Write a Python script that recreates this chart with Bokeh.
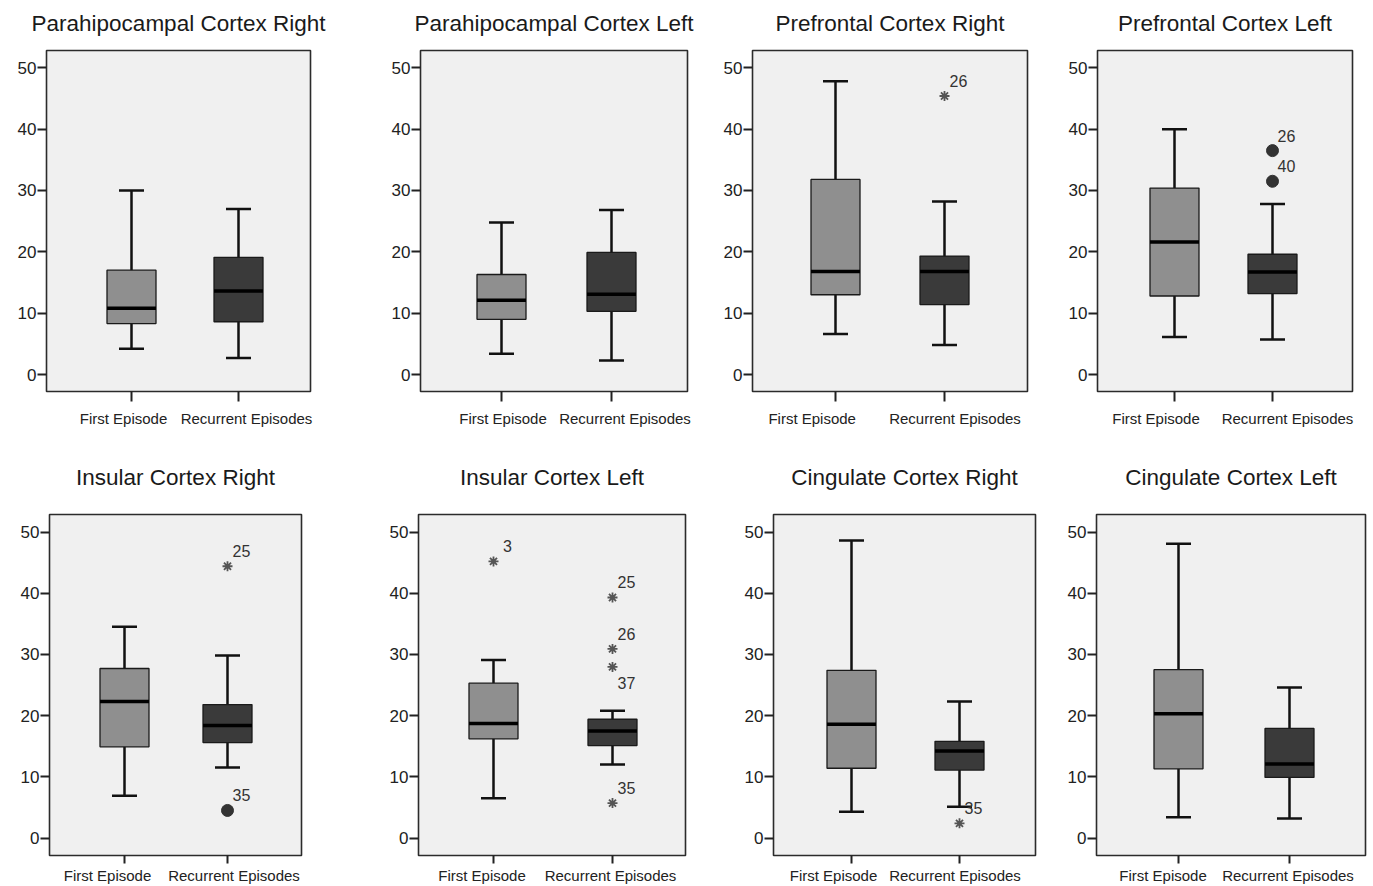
from bokeh.plotting import figure
from bokeh.layouts import column, row
from bokeh.models import FixedTicker, Range1d, ColumnDataSource, LinearAxis
from bokeh.embed import file_html
from bokeh.resources import INLINE
from bokeh.core.properties import value

# ---------------- data ----------------
panels = ["Parahipocampal Cortex Right", "Parahipocampal Cortex Left",
          "Prefrontal Cortex Right", "Prefrontal Cortex Left",
          "Insular Cortex Right", "Insular Cortex Left",
          "Cingulate Cortex Right", "Cingulate Cortex Left"]
groups = ["First Episode", "Recurrent Episodes"]
y_ticks = [0, 10, 20, 30, 40, 50]

first_low = [4.2, 3.4, 6.6, 6.1, 6.9, 6.5, 4.3, 3.4]
first_q1 = [8.3, 9.0, 13.0, 12.8, 14.9, 16.2, 11.4, 11.3]
first_med = [10.8, 12.1, 16.8, 21.6, 22.3, 18.7, 18.6, 20.3]
first_q3 = [17.0, 16.3, 31.8, 30.4, 27.7, 25.3, 27.4, 27.5]
first_high = [30.0, 24.8, 47.8, 40.0, 34.5, 29.1, 48.6, 48.1]

rec_low = [2.7, 2.3, 4.8, 5.7, 11.5, 12.0, 5.1, 3.2]
rec_q1 = [8.6, 10.3, 11.4, 13.2, 15.6, 15.1, 11.1, 9.9]
rec_med = [13.6, 13.1, 16.8, 16.7, 18.4, 17.5, 14.2, 12.1]
rec_q3 = [19.1, 19.9, 19.3, 19.6, 21.8, 19.4, 15.8, 17.9]
rec_high = [27.0, 26.8, 28.2, 27.8, 29.8, 20.8, 22.3, 24.6]

# outliers: panel index, group index, value, case number, kind
out_panel = [2, 3, 3, 4, 4, 5, 5, 5, 5, 5, 6]
out_group = [1, 1, 1, 1, 1, 0, 1, 1, 1, 1, 1]
out_value = [45.4, 36.5, 31.5, 44.4, 4.5, 45.2, 39.3, 30.9, 27.95, 5.7, 2.4]
out_case = ["26", "26", "40", "25", "35", "3", "25", "26", "37", "35", "35"]
out_kind = ["extreme", "outlier", "outlier", "extreme", "outlier", "extreme",
            "extreme", "extreme", "extreme", "extreme", "extreme"]
label_below = ["37"]

# ---------------- layout (pixels) ----------------
FONT = "Liberation Sans"
# per panel: figure left, figure right, frame left, frame right, tick 1, tick 2, label 1 centre, label 2 centre
geo = [
    (0, 365, 46, 310, 131, 238, 123, 246),
    (365, 720, 420, 687, 501, 611, 502.5, 624.5),
    (720, 1062, 752, 1027, 835, 944, 811.7, 954.5),
    (1062, 1365, 1097, 1352, 1174, 1272, 1155.5, 1287),
    (0, 360, 49, 301, 124, 227, 107, 233.5),
    (360, 729, 418, 685, 493, 612, 481.5, 610),
    (729, 1064, 773, 1035, 851, 959, 833, 954.5),
    (1064, 1365, 1093, 1362, 1175, 1286, 1159.5, 1284.5),
]
# per row: fig top, fig bottom, frame top, frame bottom, y px of 0, y px of 50,
#          title gap above frame, x tick length, x label gap below tick
rows_geo = [
    (0, 430, 50, 391, 374.0, 67.3, 15, 10, 8),
    (430, 884, 514, 855, 837.5, 531.5, 25, 8, 3),
]

BOX_HALF_PX = 24.5
CAP_HALF_PX = 12.5
FILLS = ["#8f8f8f", "#3a3a3a"]


def make_panel(i):
    fl, fr, L, R, c1, c2, l1, l2 = geo[i]
    ft, fb, top, bot, y0, y50, title_gap, tick_len, lab_off = rows_geo[i // 4]
    # x axis coordinates: label centres sit at 1 and 2; group positions computed from pixels
    d2 = l2 - l1
    xs, xe = 1 - (l1 - L) / d2, 2 + (R - l2) / d2
    gx = [1 + (c1 - l1) / d2, 1 + (c2 - l1) / d2]
    ppu = (y0 - y50) / 50.0
    ys, ye = -(bot - y0) / ppu, (y0 - top) / ppu

    p = figure(frame_width=R - L, frame_height=bot - top,
               min_border_left=L - fl, min_border_right=fr - R,
               min_border_top=top - ft, min_border_bottom=fb - bot,
               x_range=Range1d(xs, xe), y_range=Range1d(ys, ye),
               output_backend="svg", toolbar_location=None)

    # panel title, drawn as the label of an empty axis above the frame
    title_axis = LinearAxis(ticker=FixedTicker(ticks=[]), axis_label=panels[i])
    title_axis.axis_line_color = None
    title_axis.major_tick_line_color = None
    title_axis.minor_tick_line_color = None
    title_axis.major_tick_in = 0
    title_axis.major_tick_out = 0
    title_axis.minor_tick_in = 0
    title_axis.minor_tick_out = 0
    title_axis.major_label_standoff = 0
    title_axis.axis_label_standoff = title_gap
    title_axis.axis_label_text_font = FONT
    title_axis.axis_label_text_font_size = "22.5px"
    title_axis.axis_label_text_font_style = "normal"
    title_axis.axis_label_text_color = "#1a1a1a"
    p.add_layout(title_axis, "above")

    p.background_fill_color = "#f0f0f0"
    p.border_fill_color = "white"
    p.outline_line_color = "#2b2b2b"
    p.outline_line_width = 1.6
    p.grid.visible = False

    # x axis: labels at major positions, tick marks drawn as minor ticks at the group positions
    xax = p.below[0]
    xax.ticker = FixedTicker(ticks=[1, 2], minor_ticks=gx)
    xax.major_label_overrides = {k + 1: g for k, g in enumerate(groups)}
    xax.major_tick_line_color = None
    xax.major_tick_in = 0
    xax.major_tick_out = 0
    xax.minor_tick_in = 0
    xax.minor_tick_out = tick_len
    xax.minor_tick_line_color = "#222222"
    xax.minor_tick_line_width = 2
    xax.major_label_standoff = lab_off
    xax.major_label_text_font_size = "15px"

    yax = p.left[0]
    yax.ticker = FixedTicker(ticks=y_ticks)
    yax.minor_tick_line_color = None
    yax.major_tick_in = 0
    yax.major_tick_out = 9
    yax.major_tick_line_color = "#222222"
    yax.major_tick_line_width = 2
    yax.major_label_standoff = 1
    yax.major_label_text_font_size = "17px"
    for ax in (xax, yax):
        ax.axis_line_color = None
        ax.major_label_text_font = FONT
        ax.major_label_text_color = "#222222"

    d = gx[1] - gx[0]
    bh = BOX_HALF_PX / (c2 - c1) * d
    ch = CAP_HALF_PX / (c2 - c1) * d
    stats = [
        (first_low[i], first_q1[i], first_med[i], first_q3[i], first_high[i]),
        (rec_low[i], rec_q1[i], rec_med[i], rec_q3[i], rec_high[i]),
    ]
    for g, (lo, q1, md, q3, hi) in enumerate(stats):
        x = gx[g]
        src = ColumnDataSource(dict(x=[x], lo=[lo], q1=[q1], md=[md], q3=[q3], hi=[hi]))
        p.segment(x0=x, x1=x, y0="q3", y1="hi", source=src, line_color="#111111", line_width=2.5)
        p.segment(x0=x, x1=x, y0="lo", y1="q1", source=src, line_color="#111111", line_width=2.5)
        p.segment(x0=x - ch, x1=x + ch, y0="hi", y1="hi", source=src, line_color="#111111", line_width=2.5)
        p.segment(x0=x - ch, x1=x + ch, y0="lo", y1="lo", source=src, line_color="#111111", line_width=2.5)
        p.quad(left=x - bh, right=x + bh, bottom="q1", top="q3", source=src,
               fill_color=FILLS[g], line_color="#1a1a1a", line_width=1.3)
        p.segment(x0=x - bh, x1=x + bh, y0="md", y1="md", source=src, line_color="#000000", line_width=3.5)

    # outliers
    for kind, marker, size, lc, fc in (("extreme", "asterisk", 10, "#555555", None),
                                       ("outlier", "circle", 12, "#333333", "#333333")):
        idx = [k for k in range(len(out_value)) if out_panel[k] == i and out_kind[k] == kind]
        if not idx:
            continue
        src = ColumnDataSource(dict(x=[gx[out_group[k]] for k in idx], y=[out_value[k] for k in idx]))
        if fc is None:
            p.scatter("x", "y", source=src, marker=marker, size=size, line_color=lc, line_width=1.8)
        else:
            p.scatter("x", "y", source=src, marker=marker, size=size, line_color=lc, fill_color=fc)
    for below in (False, True):
        idx = [k for k in range(len(out_value)) if out_panel[k] == i and ((out_case[k] in label_below) == below)]
        if not idx:
            continue
        src = ColumnDataSource(dict(x=[gx[out_group[k]] for k in idx], y=[out_value[k] for k in idx],
                                    t=[out_case[k] for k in idx]))
        p.text("x", "y", text="t", source=src, x_offset=14, y_offset=16 if below else -15,
               text_align="center", text_baseline="middle", text_font=value(FONT),
               text_font_size="16px", text_color="#333333")
    return p


figs = [make_panel(i) for i in range(8)]
layout = column(row(*figs[:4]), row(*figs[4:]))
open("out.html", "w").write(file_html(layout, INLINE))
